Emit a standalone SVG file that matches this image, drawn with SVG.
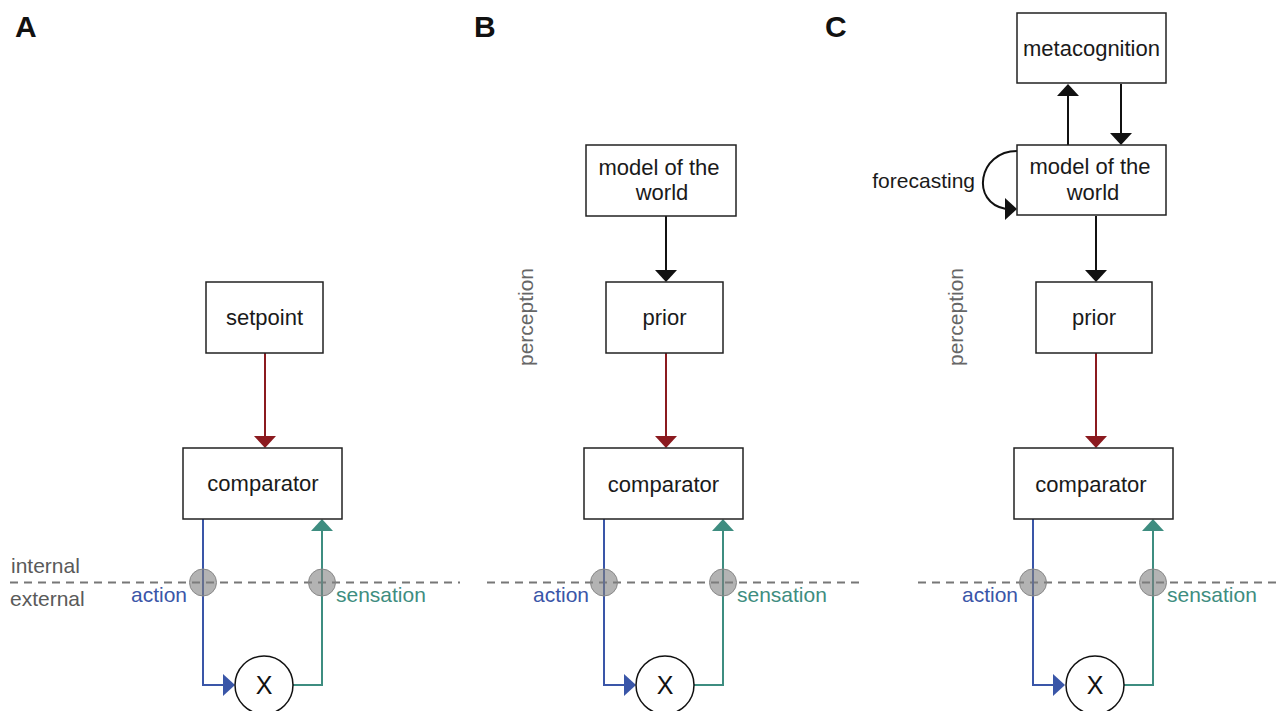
<svg xmlns="http://www.w3.org/2000/svg" width="1283" height="711" viewBox="0 0 1283 711">
<style>
text{font-family:"Liberation Sans",Arial,sans-serif;font-size:21px;fill:#1a1a1a}
.box{fill:#fff;stroke:#222;stroke-width:1.5}
.lbl{text-anchor:middle;font-size:22px}
.panel{font-size:30px;font-weight:bold;fill:#111}
.side{fill:#5a5a5a}
.act{fill:#3a56a8}
.sen{fill:#3e8d80}
.per{fill:#666;text-anchor:middle}
.dash{stroke:#777;stroke-width:2;stroke-dasharray:8 6;fill:none}
.red{stroke:#8b1a1f;stroke-width:2;fill:none}
.blk{stroke:#111;stroke-width:2;fill:none}
.blue{stroke:#3a56a8;stroke-width:2;fill:none}
.teal{stroke:#3e8d80;stroke-width:2;fill:none}
.gate{fill:#808080;fill-opacity:0.6;stroke:#888;stroke-width:1}
.xc{fill:#fff;stroke:#111;stroke-width:1.5}
.xt{font-size:25px;text-anchor:middle;fill:#111}
</style>
<rect width="1283" height="711" fill="#fff"/>

<text class="panel" x="15" y="37">A</text>
<text class="panel" x="474" y="37">B</text>
<text class="panel" x="825" y="37">C</text>

<g id="boundaries">
<line class="dash" x1="10" y1="582.5" x2="460" y2="582.5"/>
<line class="dash" x1="487" y1="582.5" x2="860" y2="582.5"/>
<line class="dash" x1="918" y1="582.5" x2="1278" y2="582.5"/>
<text class="side" x="11" y="573">internal</text>
<text class="side" x="10" y="606">external</text>
<text class="per" transform="translate(533,317) rotate(-90)">perception</text>
<text class="per" transform="translate(963,317) rotate(-90)">perception</text>
</g>

<g id="connectors">
<!-- A -->
<line class="red" x1="265" y1="353" x2="265" y2="438"/>
<polygon points="254,436 276,436 265,448" fill="#8b1a1f"/>
<polyline class="blue" points="203,519 203,685 224,685"/>
<polygon points="223,674 223,696 235,685" fill="#3a56a8"/>
<polyline class="teal" points="293,685 322,685 322,530"/>
<polygon points="311,531 333,531 322,519" fill="#3e8d80"/>
<!-- B -->
<line class="blk" x1="666" y1="216" x2="666" y2="272"/>
<polygon points="655,270 677,270 666,282" fill="#111"/>
<line class="red" x1="666" y1="353" x2="666" y2="438"/>
<polygon points="655,436 677,436 666,448" fill="#8b1a1f"/>
<polyline class="blue" points="604,519 604,685 625,685"/>
<polygon points="624,674 624,696 636,685" fill="#3a56a8"/>
<polyline class="teal" points="694,685 723,685 723,530"/>
<polygon points="712,531 734,531 723,519" fill="#3e8d80"/>
<!-- C -->
<line class="blk" x1="1068" y1="145" x2="1068" y2="94"/>
<polygon points="1057,96 1079,96 1068,84" fill="#111"/>
<line class="blk" x1="1121" y1="84" x2="1121" y2="135"/>
<polygon points="1110,133 1132,133 1121,145" fill="#111"/>
<path class="blk" d="M1017,151 C978,151 970,203 1006,209"/>
<polygon points="1005,198 1005,220 1017,209" fill="#111"/>
<line class="blk" x1="1096" y1="216" x2="1096" y2="272"/>
<polygon points="1085,270 1107,270 1096,282" fill="#111"/>
<line class="red" x1="1096" y1="353" x2="1096" y2="438"/>
<polygon points="1085,436 1107,436 1096,448" fill="#8b1a1f"/>
<polyline class="blue" points="1033,519 1033,685 1054,685"/>
<polygon points="1053,674 1053,696 1065,685" fill="#3a56a8"/>
<polyline class="teal" points="1124,685 1153,685 1153,530"/>
<polygon points="1142,531 1164,531 1153,519" fill="#3e8d80"/>
</g>

<g id="gates">
<circle class="gate" cx="203" cy="582.5" r="13.5"/>
<circle class="gate" cx="322" cy="582.5" r="13.5"/>
<circle class="gate" cx="604" cy="582.5" r="13.5"/>
<circle class="gate" cx="723" cy="582.5" r="13.5"/>
<circle class="gate" cx="1033" cy="582.5" r="13.5"/>
<circle class="gate" cx="1153" cy="582.5" r="13.5"/>
</g>

<g id="labels">
<text class="act" x="187" y="602" text-anchor="end">action</text>
<text class="sen" x="336" y="602">sensation</text>
<text class="act" x="589" y="602" text-anchor="end">action</text>
<text class="sen" x="737" y="602">sensation</text>
<text class="act" x="1018" y="602" text-anchor="end">action</text>
<text class="sen" x="1167" y="602">sensation</text>
<text x="975" y="188" text-anchor="end">forecasting</text>
</g>

<g id="A-setpoint"><rect class="box" x="206" y="282" width="117" height="71"/><text class="lbl" x="264.5" y="325">setpoint</text></g>
<g id="A-comparator"><rect class="box" x="183" y="448" width="159" height="71"/><text class="lbl" x="263" y="491">comparator</text></g>
<g id="A-x"><circle class="xc" cx="264" cy="685" r="29"/><text class="xt" x="264" y="694">X</text></g>

<g id="B-model"><rect class="box" x="586" y="145" width="150" height="71"/><text class="lbl" x="659" y="175">model of the</text><text class="lbl" x="662" y="200">world</text></g>
<g id="B-prior"><rect class="box" x="606" y="282" width="117" height="71"/><text class="lbl" x="664.5" y="325">prior</text></g>
<g id="B-comparator"><rect class="box" x="584" y="448" width="159" height="71"/><text class="lbl" x="663.5" y="492">comparator</text></g>
<g id="B-x"><circle class="xc" cx="665" cy="685" r="29"/><text class="xt" x="665" y="694">X</text></g>

<g id="C-metacognition"><rect class="box" x="1017" y="13" width="149" height="70"/><text class="lbl" x="1091.5" y="56">metacognition</text></g>
<g id="C-model"><rect class="box" x="1017" y="145" width="149" height="70"/><text class="lbl" x="1090" y="174">model of the</text><text class="lbl" x="1093" y="200">world</text></g>
<g id="C-prior"><rect class="box" x="1036" y="282" width="116" height="71"/><text class="lbl" x="1094" y="325">prior</text></g>
<g id="C-comparator"><rect class="box" x="1014" y="448" width="159" height="71"/><text class="lbl" x="1091" y="492">comparator</text></g>
<g id="C-x"><circle class="xc" cx="1095" cy="685" r="29"/><text class="xt" x="1095" y="694">X</text></g>
</svg>
